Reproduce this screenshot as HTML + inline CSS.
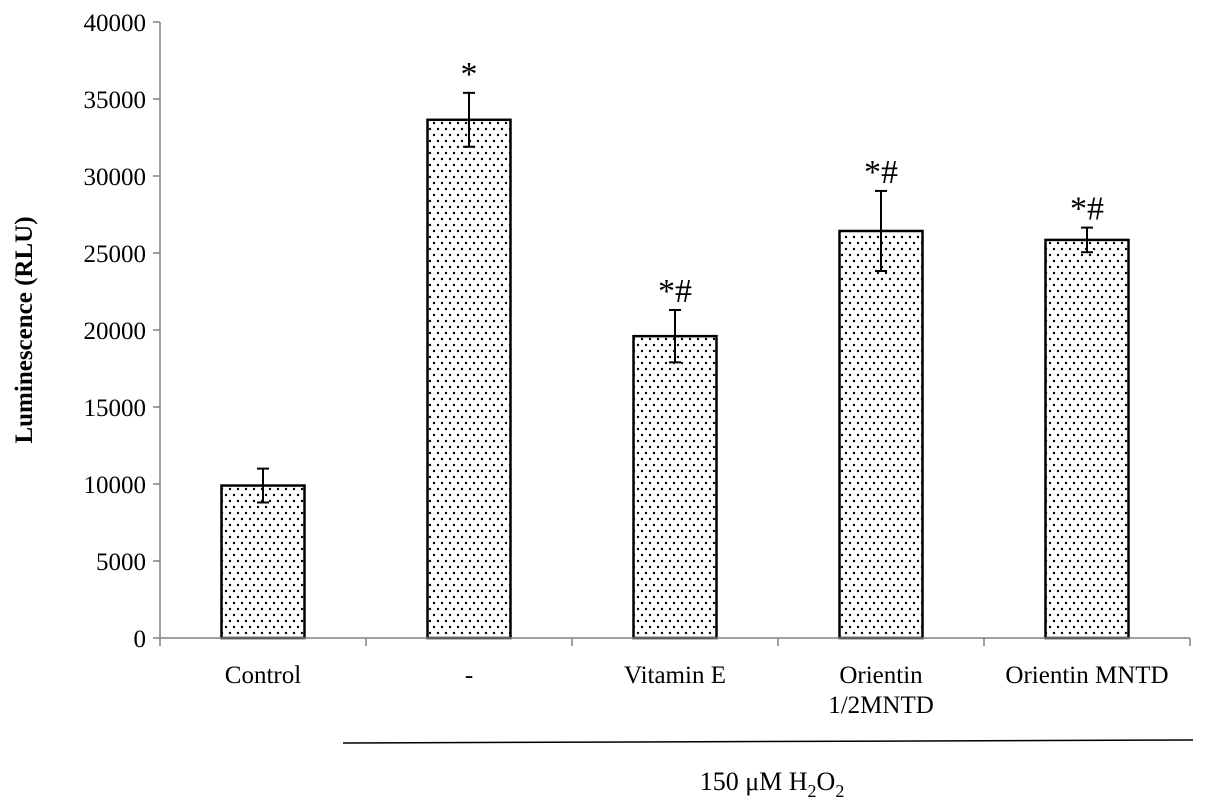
<!DOCTYPE html>
<html><head><meta charset="utf-8"><style>
body{margin:0;background:#fff}
svg{display:block;font-family:"Liberation Serif",serif}
</style></head><body>
<svg id="chart" width="1205" height="811">
<defs>
<pattern id="dots" width="8" height="12" patternUnits="userSpaceOnUse">
<rect width="8" height="12" fill="#fff"/>
<circle cx="2" cy="3" r="1.2" fill="#000"/>
<circle cx="6" cy="9" r="1.2" fill="#000"/>
</pattern>
</defs>
</svg>
<script>
const categories=["Control","-","Vitamin E","Orientin|1/2MNTD","Orientin MNTD"];
const values=[9900,33650,19600,26430,25850];
const errors=[1100,1750,1700,2600,800];
const markers=["","*","*#","*#","*#"];
const yTicks=[0,5000,10000,15000,20000,25000,30000,35000,40000];
const NS="http://www.w3.org/2000/svg";
const svg=document.getElementById('chart');
const x0=160,x1=1190,y0=638,yTop=22,yMax=40000;
const bw=(x1-x0)/categories.length;
const y=v=>y0-(v/yMax)*(y0-yTop);
function mk(t,a,p){const e=document.createElementNS(NS,t);for(const k in a)e.setAttribute(k,a[k]);(p||svg).appendChild(e);return e;}
let ya=mk('line',{x1:x0,y1:yTop,x2:x0,y2:y0,stroke:'#808080','stroke-width':1.5});


yTicks.forEach(v=>{
 let t=mk('line',{x1:x0-7,y1:y(v),x2:x0,y2:y(v),stroke:'#808080','stroke-width':1.5});
 
 
 let l=mk('text',{x:x0-14,y:y(v)+9,'text-anchor':'end','font-size':25});
 l.textContent=v;
 
 
});
let yt=mk('text',{x:0,y:0,'font-size':25,'font-weight':'bold','text-anchor':'middle',transform:'translate(32,330) rotate(-90)'});
yt.textContent='Luminescence (RLU)';


categories.forEach((c,i)=>{
 const cx=x0+bw*(i+0.5),w=83;
 let b=mk('rect',{x:cx-w/2,y:y(values[i]),width:w,height:y0-y(values[i]),fill:'url(#dots)',stroke:'#000','stroke-width':2.5});
 
 
 const hi=y(values[i]+errors[i]),lo=y(values[i]-errors[i]);
 let g=mk('g',{stroke:'#000','stroke-width':2});
 
 
 mk('line',{x1:cx,y1:hi,x2:cx,y2:lo},g);
 mk('line',{x1:cx-6,y1:hi,x2:cx+6,y2:hi},g);
 mk('line',{x1:cx-6,y1:lo,x2:cx+6,y2:lo},g);
 if(markers[i]){let m=mk('text',{x:cx,y:hi-8,'text-anchor':'middle','font-size':34});m.textContent=markers[i];
  
  }
 c.split('|').forEach((s,j)=>{let l=mk('text',{x:cx,y:683+j*30,'text-anchor':'middle','font-size':25});l.textContent=s;
  
  });
});
let xa=mk('line',{x1:x0,y1:y0,x2:x1,y2:y0,stroke:'#808080','stroke-width':1.5});


for(let i=0;i<=categories.length;i++){let t=mk('line',{x1:x0+bw*i,y1:y0,x2:x0+bw*i,y2:y0+8,stroke:'#808080','stroke-width':1.5});
 
 }
let br=mk('line',{x1:343,y1:743,x2:1193,y2:740,stroke:'#000','stroke-width':1.5});


let gt=mk('text',{x:772,y:790,'text-anchor':'middle','font-size':26});
gt.innerHTML='150 μM  H<tspan font-size="18" dy="7">2</tspan><tspan dy="-7">O</tspan><tspan font-size="18" dy="7">2</tspan>';


</script>
</body></html>
